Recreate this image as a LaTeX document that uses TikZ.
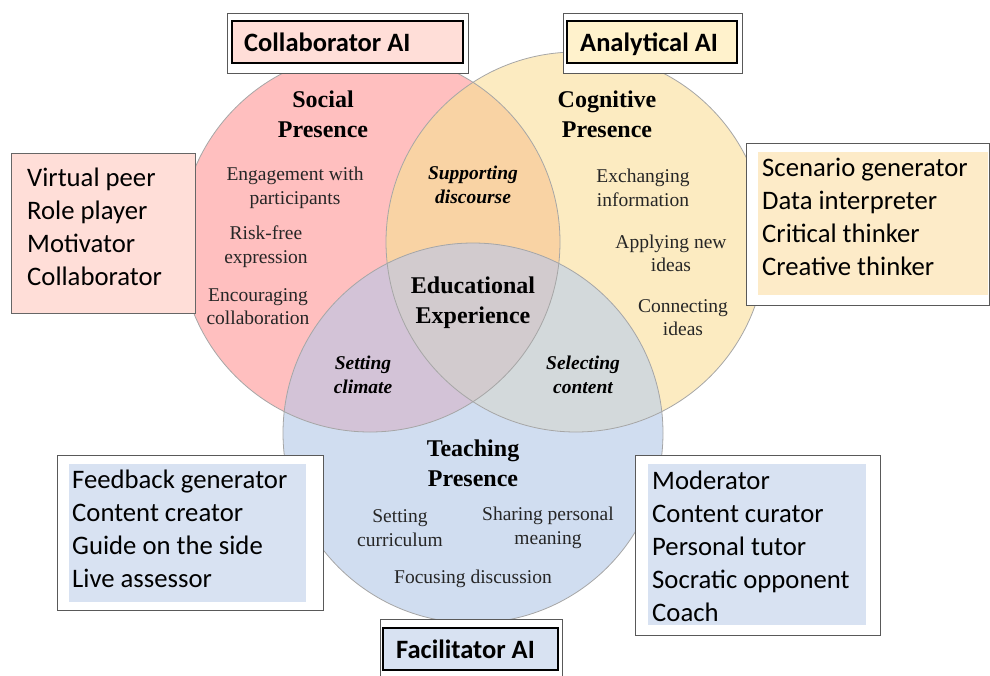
\documentclass[tikz,border=0pt]{standalone}
\usepackage{fontspec}
\setmainfont{Liberation Serif}
\newfontfamily\carlito{Carlito}
\definecolor{cR}{HTML}{FFBFBF}
\definecolor{cY}{HTML}{FCEBC1}
\definecolor{cB}{HTML}{D0DDF0}
\definecolor{cRY}{HTML}{F9D3A4}
\definecolor{cRB}{HTML}{D3C3D7}
\definecolor{cYB}{HTML}{D3D9DB}
\definecolor{cRYB}{HTML}{D2CBCE}
\definecolor{bxPink}{HTML}{FFDED8}
\definecolor{bxYel}{HTML}{FFF2CC}
\definecolor{bxYel2}{HTML}{FDEBC8}
\definecolor{bxBlue}{HTML}{D8E2F2}
\begin{document}
\begin{tikzpicture}[x=1pt,y=-1pt,
  outerbox/.style={draw=black!65,line width=0.9pt,fill=white,inner sep=0pt,outer sep=0pt},
  titlebox/.style={draw=black,line width=1.7pt,inner sep=0pt,outer sep=0pt},
  fillbox/.style={inner sep=0pt,outer sep=0pt},
  listtxt/.style={font=\carlito\fontsize{26.7}{33}\selectfont,anchor=base west,inner sep=0pt},
  titletxt/.style={font=\carlito\bfseries\fontsize{26.5}{32}\selectfont,anchor=base west,inner sep=0pt},
  head/.style={font=\bfseries\fontsize{24}{30}\selectfont,align=center,inner sep=0pt},
  item/.style={font=\fontsize{19.5}{23.5}\selectfont,align=center,inner sep=0pt,text=black!85},
  overlap/.style={font=\bfseries\itshape\fontsize{19.5}{23.5}\selectfont,align=center,inner sep=0pt},
  ring/.style={draw=black!35,line width=0.8pt}
]
\useasboundingbox (0,0) rectangle (990,675);
\coordinate (R) at (370,242);
\coordinate (Y) at (576,242);
\coordinate (B) at (473,433);
% circle fills
\fill[cR] (R) circle [radius=190pt];
\fill[cY] (Y) circle [radius=190pt];
\fill[cB] (B) circle [radius=190pt];
\begin{scope}
  \clip (R) circle [radius=190pt];
  \fill[cRY] (Y) circle [radius=190pt];
  \fill[cRB] (B) circle [radius=190pt];
\end{scope}
\begin{scope}
  \clip (Y) circle [radius=190pt];
  \fill[cYB] (B) circle [radius=190pt];
\end{scope}
\begin{scope}
  \clip (R) circle [radius=190pt];
  \clip (Y) circle [radius=190pt];
  \fill[cRYB] (B) circle [radius=190pt];
\end{scope}
\draw[ring] (R) circle [radius=190pt];
\draw[ring] (Y) circle [radius=190pt];
\draw[ring] (B) circle [radius=190pt];
% circle texts
\node[head] (soc) at (323,114) {Social\\Presence};
\node[head] (cog) at (607,114) {Cognitive\\Presence};
\node[head] (edu) at (473,303) {Educational\\Experience};
\node[head] (tea) at (473,463) {Teaching\\Presence};
\node[overlap] (sup) at (473,185) {Supporting\\discourse};
\node[overlap] (scl) at (363,375) {Setting\\climate};
\node[overlap] (sel) at (583,375) {Selecting\\content};
\node[item] (eng) at (295,188) {Engagement with\\participants};
\node[item] (risk) at (266,246.5) {Risk-free\\expression};
\node[item] (enc) at (258,306.5) {Encouraging\\collaboration};
\node[item] (exc) at (643,188) {Exchanging\\information};
\node[item] (app) at (671,253.5) {Applying new\\ideas};
\node[item] (con) at (683,317.5) {Connecting\\ideas};
\node[item] (scur) at (400,528) {Setting\\curriculum};
\node[item] (spm) at (548,528) {Sharing personal\\meaning};
\node[item] (foc) at (473,578.5) {Focusing discussion};
% Collaborator AI
\node[outerbox,minimum width=241pt,minimum height=60pt] (colO) at (347.5,43) {};
\node[titlebox,fill=bxPink,minimum width=231pt,minimum height=42pt] (colI) at (347.5,42) {};
\node[titletxt] (colT) at (244,51) {Collaborator AI};
% Analytical AI
\node[outerbox,minimum width=179pt,minimum height=60pt] (anaO) at (652.5,43) {};
\node[titlebox,fill=bxYel,minimum width=170pt,minimum height=42pt] (anaI) at (652,42) {};
\node[titletxt] (anaT) at (580,51) {Analytical AI};
% Facilitator AI
\node[outerbox,minimum width=182pt,minimum height=60pt] (facO) at (471,649) {};
\node[titlebox,fill=bxBlue,minimum width=175pt,minimum height=42pt] (facI) at (470.5,649) {};
\node[titletxt] (facT) at (396,658) {Facilitator AI};
% left list (Collaborator)
\node[fillbox,draw=black!60,line width=0.9pt,fill=bxPink,minimum width=184pt,minimum height=160pt] (lbox) at (103,233) {};
\node[listtxt] (l1) at (27,186) {Virtual peer};
\node[listtxt] (l2) at (27,219) {Role player};
\node[listtxt] (l3) at (27,252) {Motivator};
\node[listtxt] (l4) at (27,285) {Collaborator};
% right list (Analytical)
\node[outerbox,minimum width=243pt,minimum height=162pt] (rboxO) at (867.5,224) {};
\node[fillbox,fill=bxYel2,minimum width=230pt,minimum height=143pt] (rboxI) at (873,223.5) {};
\node[listtxt] (r1) at (762,176) {Scenario generator};
\node[listtxt] (r2) at (762,209) {Data interpreter};
\node[listtxt] (r3) at (762,242) {Critical thinker};
\node[listtxt] (r4) at (762,275) {Creative thinker};
% bottom-left list
\node[outerbox,minimum width=266pt,minimum height=155pt] (blO) at (190,532.5) {};
\node[fillbox,fill=bxBlue,minimum width=237pt,minimum height=138pt] (blI) at (187.5,533) {};
\node[listtxt] (b1) at (72,488) {Feedback generator};
\node[listtxt] (b2) at (72,521) {Content creator};
\node[listtxt] (b3) at (72,554) {Guide on the side};
\node[listtxt] (b4) at (72,587) {Live assessor};
% bottom-right list
\node[outerbox,minimum width=245pt,minimum height=180pt] (brO) at (757.5,545) {};
\node[fillbox,fill=bxBlue,minimum width=218pt,minimum height=161pt] (brI) at (757,544.5) {};
\node[listtxt] (c1) at (652,489) {Moderator};
\node[listtxt] (c2) at (652,522) {Content curator};
\node[listtxt] (c3) at (652,555) {Personal tutor};
\node[listtxt] (c4) at (652,588) {Socratic opponent};
\node[listtxt] (c5) at (652,621) {Coach};
\end{tikzpicture}
\end{document}
